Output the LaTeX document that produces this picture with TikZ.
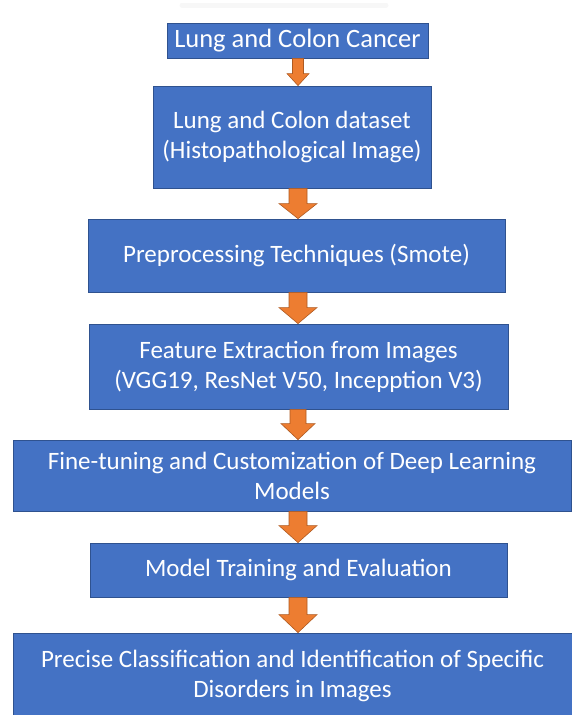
\documentclass[tikz,border=0pt]{standalone}
\usepackage{fontspec}
\setmainfont{Carlito}
\usetikzlibrary{calc}
\definecolor{boxblue}{RGB}{68,114,196}
\definecolor{boxedge}{RGB}{47,82,143}
\definecolor{arroworange}{RGB}{237,125,49}
\definecolor{arrowedge}{RGB}{174,90,33}

\begin{document}
\begin{tikzpicture}[x=1pt, y=-1pt,
    stage/.style={rectangle, fill=boxblue, draw=boxedge, line width=0.8pt,
      inner sep=0pt, align=center, text=white,
      font=\fontsize{25}{30}\selectfont},
    flowarrow/.style={fill=arroworange, draw=arrowedge, line width=0.6pt, line join=miter}]
  % page frame in reference pixels
  \useasboundingbox (0,0) rectangle (572,715);

  % faint shadow at the top edge
  \draw[black!3, line width=5pt, line cap=round] (182,5) -- (386,5);

  % the stages of the pipeline
  \node[stage, minimum width=261, minimum height=35, font=\fontsize{26.5}{30}\selectfont]
    (cancer) at (297.5,40.5) {Lung and Colon Cancer};
  \node[stage, minimum width=278, minimum height=102]
    (dataset) at (292,137) {Lung and Colon dataset\\(Histopathological Image)};
  \node[stage, minimum width=417, minimum height=73]
    (preproc) at (296.5,255.5) {Preprocessing Techniques (Smote)};
  \node[stage, minimum width=419, minimum height=85]
    (features) at (298.5,366.5) {Feature Extraction from Images\\(VGG19, ResNet V50, Incepption V3)};
  \node[stage, minimum width=558, minimum height=71]
    (finetune) at (292,475.5) {Fine-tuning and Customization of Deep Learning\\Models};
  \node[stage, minimum width=417, minimum height=54]
    (training) at (298.5,570) {Model Training and Evaluation};
  \node[stage, minimum width=559, minimum height=86]
    (classify) at (292.5,676) {Precise Classification and Identification of Specific\\Disorders in Images};

  % common axis of the arrows
  \coordinate (axis) at (298,0);

  % block arrows between the stages (shaft half width / head half width / head length)
  \foreach \a/\b/\s/\h/\l in {cancer/dataset/5.5/11/12, dataset/preproc/9/19/15,
      preproc/features/9/19/16, features/finetune/8/17/16,
      finetune/training/9/19/17, training/classify/9/19/18}{
    \draw[flowarrow] ($(axis |- \a.south)+(-\s,0)$) -- ($(axis |- \a.south)+(\s,0)$)
      -- ($(axis |- \b.north)+(\s,-\l)$) -- ($(axis |- \b.north)+(\h,-\l)$)
      -- (axis |- \b.north) -- ($(axis |- \b.north)+(-\h,-\l)$)
      -- ($(axis |- \b.north)+(-\s,-\l)$) -- cycle;
  }
\end{tikzpicture}
\end{document}
